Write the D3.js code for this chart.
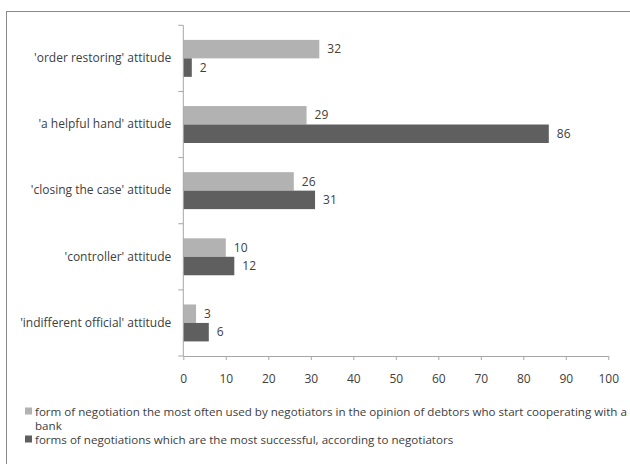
<!DOCTYPE html>
<html>
<head>
<meta charset="utf-8">
<script src="https://cdn.jsdelivr.net/npm/d3@7"></script>
<style>
  html, body { margin: 0; padding: 0; background: #fff; }
  svg { display: block; }
  text { font-family: "Open Sans", "Noto Sans", sans-serif; fill: #404040; }
</style>
</head>
<body>
<svg id="chart" width="630" height="464"></svg>
<script>
// Attitudes of negotiators, top to bottom
const categories = [
  "'order restoring' attitude",
  "'a helpful hand' attitude",
  "'closing the case' attitude",
  "'controller' attitude",
  "'indifferent official' attitude"
];
const seriesNames = [
  "form of negotiation the most often used by negotiators in the opinion of debtors who start cooperating with a bank",
  "forms of negotiations which are the most successful, according to negotiators"
];
const usedByNegotiators = [32, 29, 26, 10, 3];
const mostSuccessful = [2, 86, 31, 12, 6];
const xTicks = [0, 10, 20, 30, 40, 50, 60, 70, 80, 90, 100];
const seriesColors = ["#b2b2b2", "#5f5f5f"];

const svg = d3.select("#chart");
const fontSize = 12;
const legendFontSize = 11.6;

// outer frame
svg.append("rect")
  .attr("x", 6.5).attr("y", 11.5)
  .attr("width", 640).attr("height", 470)
  .attr("fill", "none").attr("stroke", "#8a8a8a").attr("stroke-width", 1);

const plot = { left: 183.3, right: 608.3, top: 25.3, bottom: 356 };

const x = d3.scaleLinear().domain([0, 100]).range([plot.left, plot.right]);
const y = d3.scaleBand().domain(categories).range([plot.top, plot.bottom]).paddingInner(0).paddingOuter(0);
const ySeries = d3.scaleBand().domain([0, 1]).range([0, y.bandwidth()]).paddingInner(0).paddingOuter(0.79);

const rows = categories.map((c, i) => ({ cat: c, values: [usedByNegotiators[i], mostSuccessful[i]] }));

// bars
const groups = svg.append("g").selectAll("g").data(rows).join("g")
  .attr("transform", d => `translate(0,${y(d.cat)})`);

groups.selectAll("rect").data(d => d.values.map((v, s) => ({ v, s }))).join("rect")
  .attr("x", x(0))
  .attr("y", d => ySeries(d.s))
  .attr("width", d => x(d.v) - x(0))
  .attr("height", ySeries.bandwidth())
  .attr("fill", d => seriesColors[d.s]);

// value labels
groups.selectAll("text").data(d => d.values.map((v, s) => ({ v, s }))).join("text")
  .attr("x", d => x(d.v) + 8)
  .attr("y", d => ySeries(d.s) + ySeries.bandwidth() / 2)
  .attr("dy", "0.35em")
  .attr("font-size", fontSize)
  .text(d => d.v);

// category axis
const yAxis = svg.append("g")
  .attr("transform", `translate(${plot.left},0)`)
  .call(d3.axisLeft(y).tickSize(0).tickPadding(12));
yAxis.select(".domain").attr("stroke", "#a6a6a6").attr("d", `M0,${plot.top}V${plot.bottom}`);
yAxis.selectAll(".tick text").attr("font-size", fontSize).attr("font-family", null).attr("fill", "#404040");
// tick marks at band boundaries
const boundaries = categories.map(c => y(c)).concat([plot.bottom]);
yAxis.selectAll("line.bound").data(boundaries).join("line")
  .attr("class", "bound")
  .attr("x1", -5).attr("x2", 0)
  .attr("y1", d => d).attr("y2", d => d)
  .attr("stroke", "#a6a6a6");

// value axis
const xAxis = svg.append("g")
  .attr("transform", `translate(0,${plot.bottom})`)
  .call(d3.axisBottom(x).tickValues(xTicks).tickSize(4).tickSizeOuter(0).tickPadding(14));
xAxis.select(".domain").attr("stroke", "#a6a6a6");
xAxis.selectAll(".tick line").attr("stroke", "#a6a6a6");
xAxis.selectAll(".tick text").attr("font-size", fontSize).attr("font-family", null).attr("fill", "#404040");

// legend (first entry wraps onto a second line)
const legend = svg.append("g");
const legendLines = [
  { s: 0, text: "form of negotiation the most often used by negotiators in the opinion of debtors who start cooperating with a", y: 416, marker: true },
  { s: 0, text: "bank", y: 430, marker: false },
  { s: 1, text: seriesNames[1], y: 444, marker: true }
];
legendLines.forEach(l => {
  if (l.marker) {
    legend.append("rect")
      .attr("x", 25).attr("y", l.y - 8.5)
      .attr("width", 7).attr("height", 7)
      .attr("fill", seriesColors[l.s]);
  }
  legend.append("text")
    .attr("x", 35).attr("y", l.y)
    .attr("font-size", legendFontSize)
    .text(l.text);
});
</script>
</body>
</html>
